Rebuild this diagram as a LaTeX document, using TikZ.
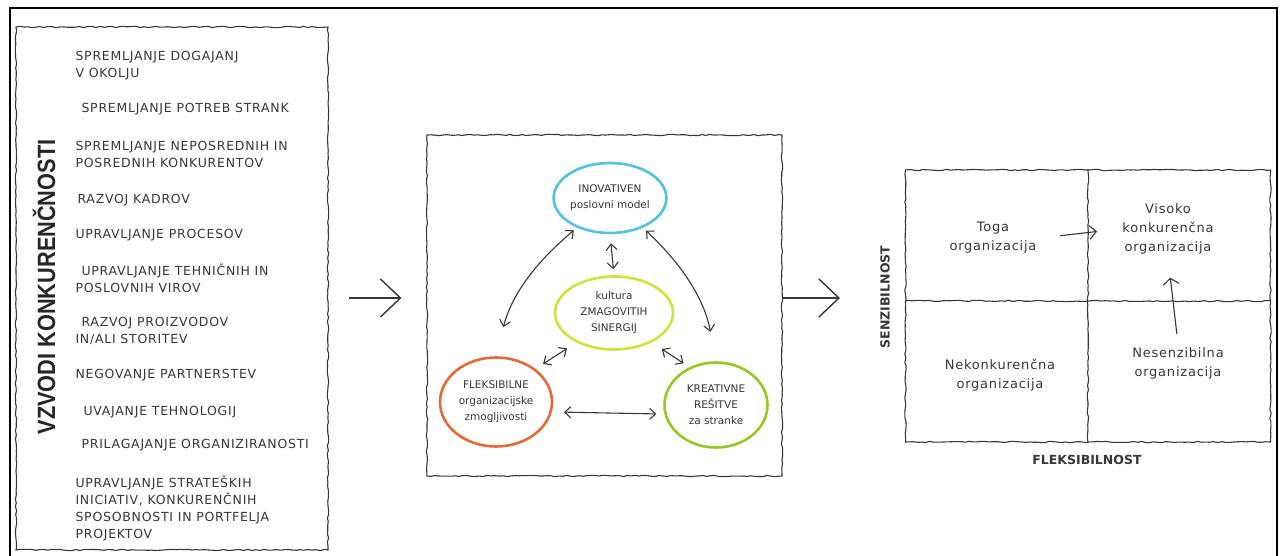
\documentclass[tikz,border=0pt]{standalone}
\usepackage{fontspec}
\setmainfont{DejaVu Sans}
\newfontfamily\handfont[LetterSpace=6]{DejaVu Sans}
\newfontfamily\titlefont{Liberation Sans}
\usetikzlibrary{shapes.geometric,arrows.meta,decorations.pathmorphing}

\definecolor{inovblue}{RGB}{80,195,225}
\definecolor{kultyellow}{RGB}{205,228,60}
\definecolor{flexorange}{RGB}{232,105,55}
\definecolor{kreagreen}{RGB}{150,200,35}
\definecolor{pencil}{RGB}{55,55,55}

\begin{document}
\begin{tikzpicture}[x=1pt,y=-1pt,
  every node/.style={text=pencil},
  sketch/.style={draw=pencil, line width=1.1pt, decorate,
    decoration={random steps, segment length=4pt, amplitude=0.7pt}},
  lever/.style={anchor=west, align=left,
    font=\handfont\fontsize{12.5}{17}\selectfont},
  bubble/.style={ellipse, draw, line width=2.6pt, inner sep=0pt, align=center,
    font=\fontsize{10.5}{16}\selectfont},
  quad/.style={align=center, font=\handfont\fontsize{13}{19}\selectfont},
  axis label/.style={font=\bfseries\fontsize{12.5}{12.5}\selectfont},
  twoway/.style={draw=pencil, line width=1.1pt,
    {Straight Barb[length=6pt,width=11pt]}-{Straight Barb[length=6pt,width=11pt]}},
  bigarrow/.style={draw=pencil, line width=1.4pt,
    -{Straight Barb[length=20pt,width=38pt]}}]

\useasboundingbox (0,0) rectangle (1283,555);
\fill[white] (0,0) rectangle (1283,555);

% Outer frame
\draw[line width=2pt] (10,580) -- (10,8) -- (1277,8) -- (1277,580);

% Left box: levers
\node[sketch, minimum width=312pt, minimum height=523pt] (drivers) at (172,288.5) {};
\node[rotate=90, text=black!85] (drivtitle) at (44,287)
  {\scalebox{0.87}[1]{\titlefont\bfseries\fontsize{25}{25}\selectfont VZVODI KONKURENČNOSTI}};

\node[lever] (lev1)  at (72,66)  {SPREMLJANJE DOGAJANJ\\V OKOLJU};
\node[lever] (lev2)  at (78,109) {SPREMLJANJE POTREB STRANK};
\node[lever] (lev3)  at (72,154) {SPREMLJANJE NEPOSREDNIH IN\\POSREDNIH KONKURENTOV};
\node[lever] (lev4)  at (74,200) {RAZVOJ KADROV};
\node[lever] (lev5)  at (72,235) {UPRAVLJANJE PROCESOV};
\node[lever] (lev6)  at (72,278) {\hspace{6pt}UPRAVLJANJE TEHNIČNIH IN\\POSLOVNIH VIROV};
\node[lever] (lev7)  at (72,331) {\hspace{6pt}RAZVOJ PROIZVODOV\\IN/ALI STORITEV};
\node[lever] (lev8)  at (72,375) {NEGOVANJE PARTNERSTEV};
\node[lever] (lev9)  at (80,412) {UVAJANJE TEHNOLOGIJ};
\node[lever] (lev10) at (78,445) {PRILAGAJANJE ORGANIZIRANOSTI};
\node[lever] (lev11) at (72,508) {UPRAVLJANJE STRATEŠKIH\\INICIATIV, KONKURENČNIH\\SPOSOBNOSTI IN PORTFELJA\\PROJEKTOV};

% Middle box: core
\node[sketch, minimum width=355pt, minimum height=341pt] (core) at (604.5,305.5) {};

\node[bubble, draw=inovblue, minimum width=111pt, minimum height=70pt] (inov) at (610,198)
  {INOVATIVEN\\poslovni model};
\node[bubble, draw=kultyellow, minimum width=118pt, minimum height=73pt] (kult) at (614,313)
  {kultura\\ZMAGOVITIH\\SINERGIJ};
\node[bubble, draw=flexorange, minimum width=112pt, minimum height=89pt] (flex) at (496,402)
  {FLEKSIBILNE\\organizacijske\\zmogljivosti};
\node[bubble, draw=kreagreen, minimum width=103pt, minimum height=85pt] (krea) at (716,405)
  {KREATIVNE\\REŠITVE\\za stranke};

% Two-way links
\draw[twoway, shorten <=9pt, shorten >=6pt] (inov.south) -- (kult.north);
\draw[twoway, shorten <=4pt, shorten >=30pt] (inov.222) to[bend right=18] (flex.north);
\draw[twoway, shorten <=4pt, shorten >=30pt] (inov.318) to[bend left=18] (krea.north);
\draw[twoway, shorten <=9pt, shorten >=11pt] (flex.40) -- (kult.218);
\draw[twoway, shorten <=12pt, shorten >=7pt] (kult.322) -- (krea.125);
\draw[twoway, shorten <=12pt, shorten >=8pt] (flex.-10) -- (krea.190);

% Right box: matrix
\node[sketch, minimum width=365pt, minimum height=272pt] (grid) at (1088,306) {};
\coordinate (mid) at (1088,301);
\draw[sketch] (grid.north -| mid) -- (grid.south -| mid);
\draw[sketch] (grid.west |- mid) -- (grid.east |- mid);

\node[quad] (toga)   at (993,238)  {Toga\\organizacija};
\node[quad] (visoko) at (1168,229) {Visoko\\konkurenčna\\organizacija};
\node[quad] (nekonk) at (1000,375) {Nekonkurenčna\\organizacija};
\node[quad] (nesenz) at (1178,363) {Nesenzibilna\\organizacija};

\node[axis label, rotate=90] (senz) at (885,297) {SENZIBILNOST};
\node[axis label] (fleks) at (1087,460) {FLEKSIBILNOST};

\draw[draw=pencil, line width=1.1pt, -{Straight Barb[length=7pt,width=14pt]},
  shorten <=20pt, shorten >=22pt] (toga.east) -- (visoko.west);
\draw[draw=pencil, line width=1.1pt, -{Straight Barb[length=6pt,width=16pt]},
  shorten <=10pt, shorten >=20pt] (nesenz.north) -- (visoko.south);

% Flow between boxes
\coordinate (flowrow) at (0,298);
\draw[bigarrow, shorten <=20pt, shorten >=25pt] (drivers.east |- flowrow) -- (core.west |- flowrow);
\draw[bigarrow, shorten >=65pt] (core.east |- flowrow) -- (grid.west |- flowrow);

\end{tikzpicture}
\end{document}
